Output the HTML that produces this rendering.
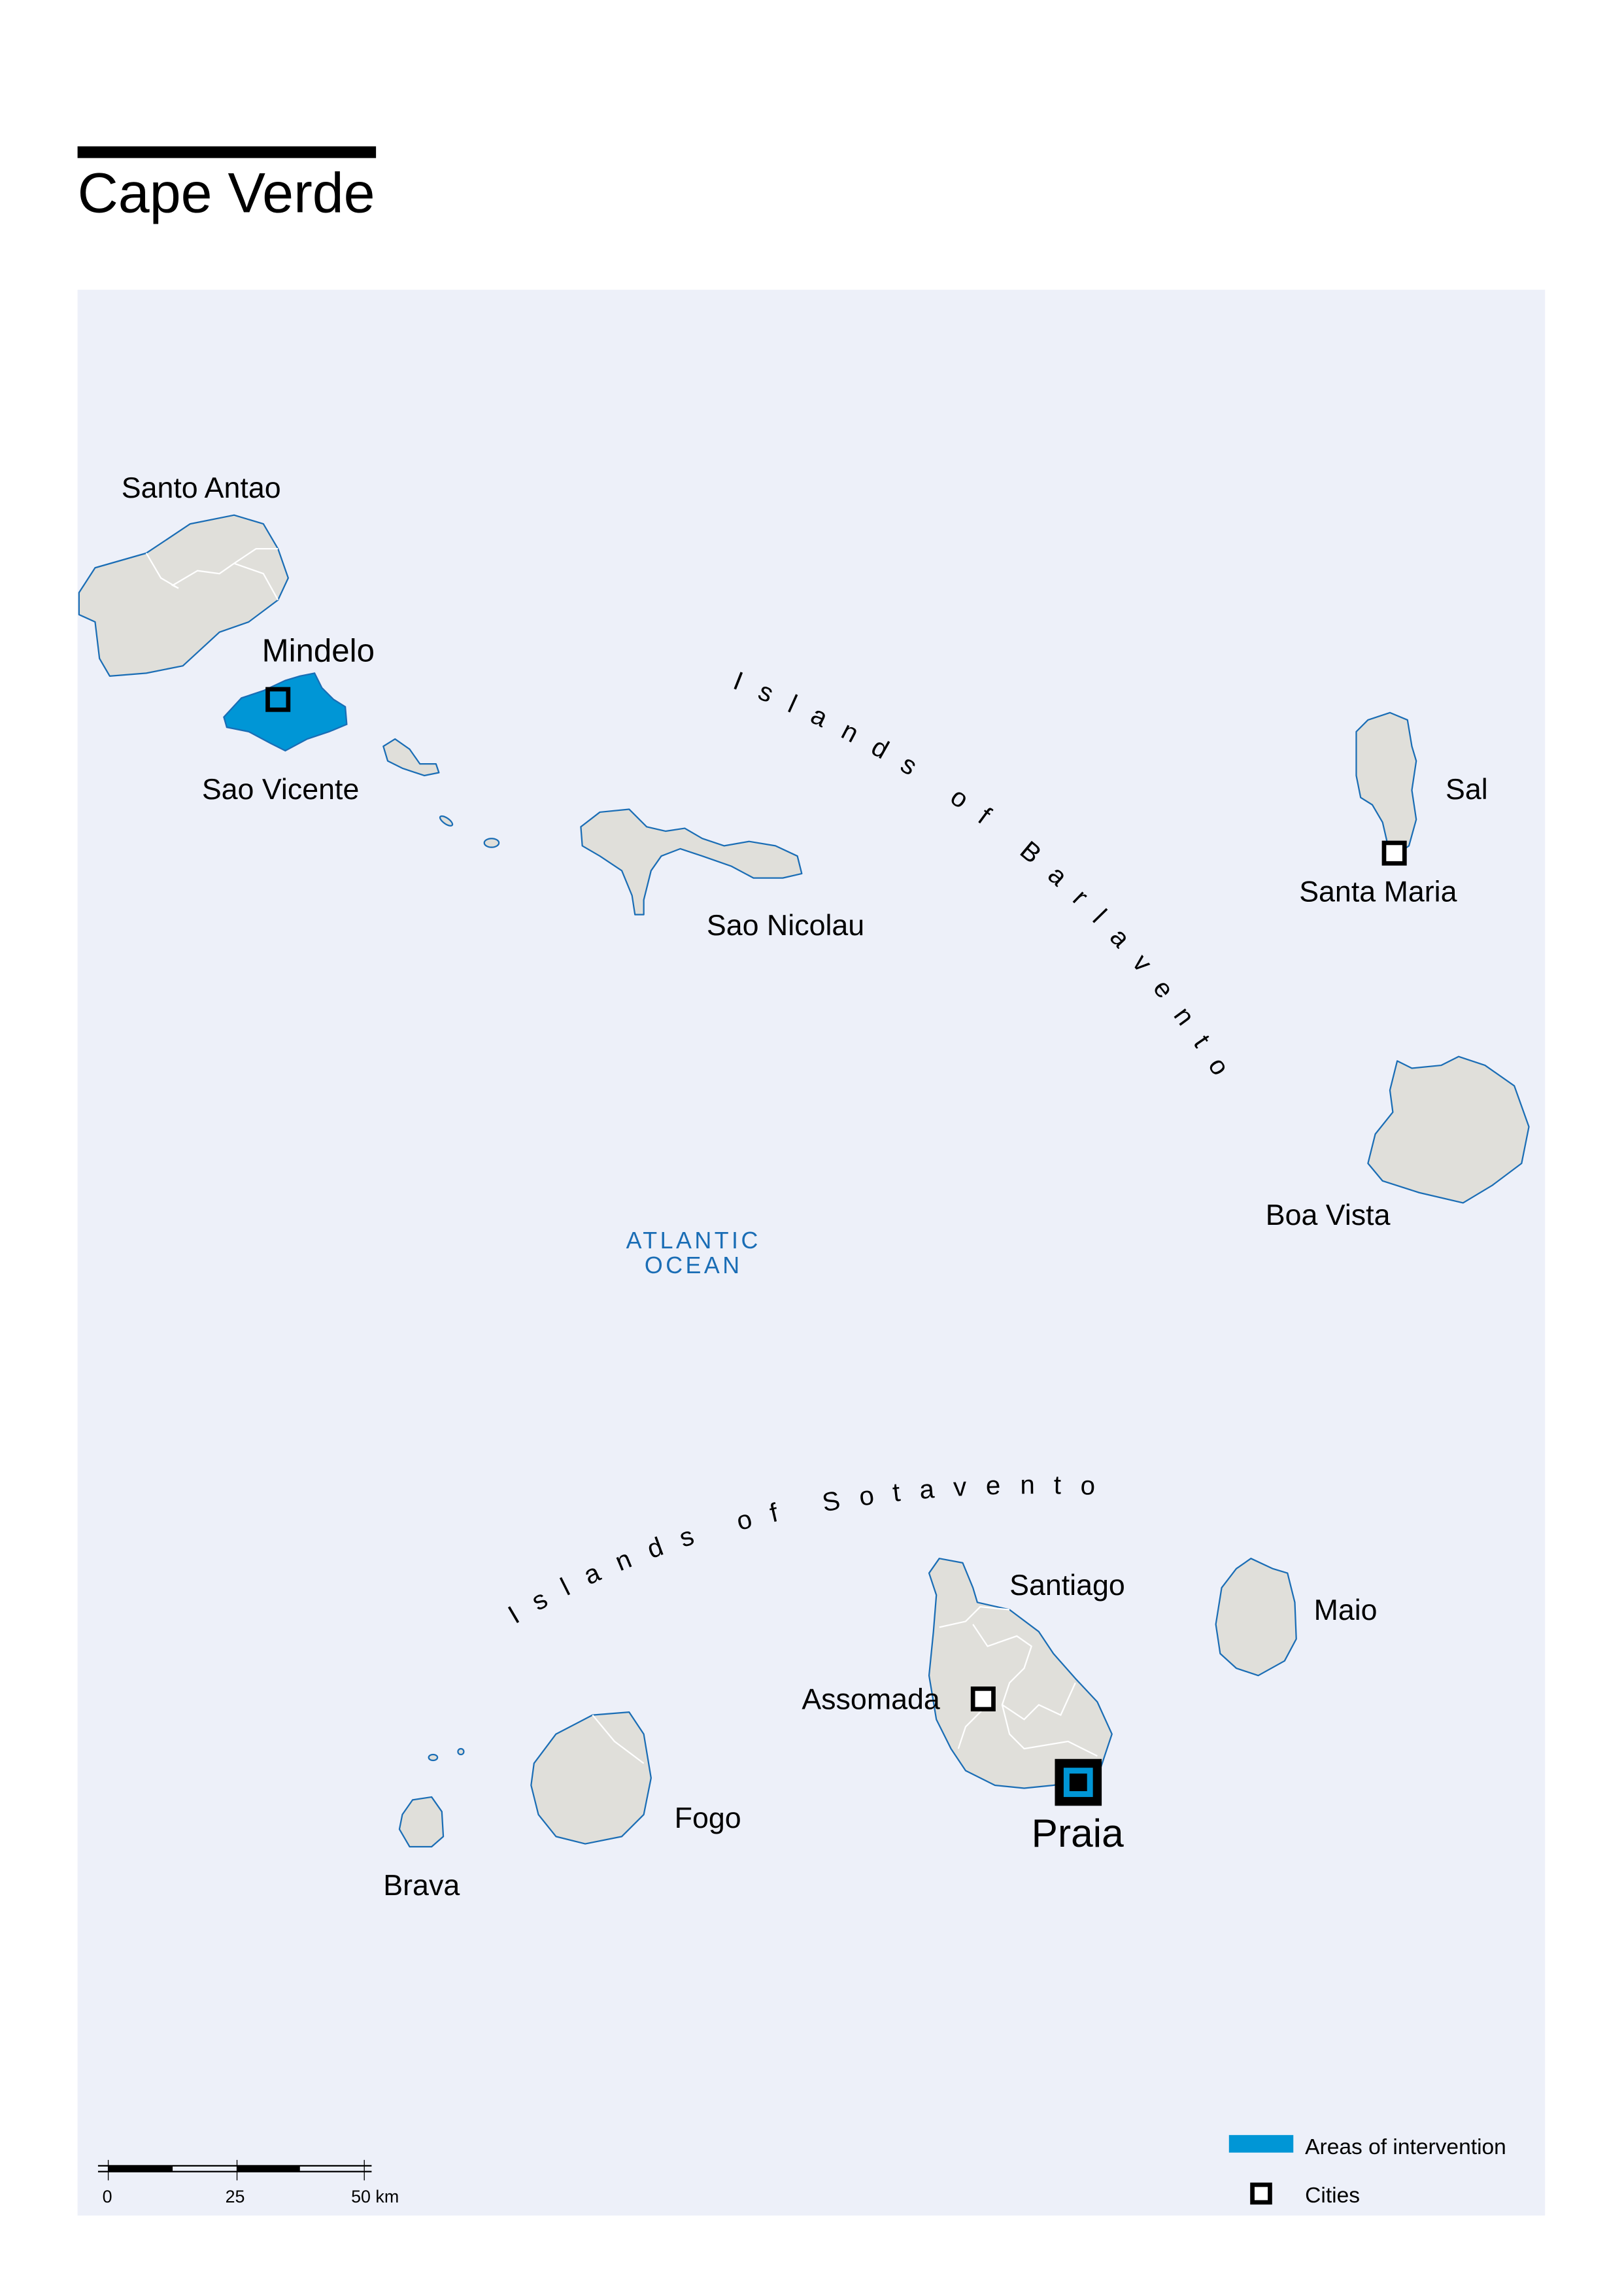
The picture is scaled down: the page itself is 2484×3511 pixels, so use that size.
<!DOCTYPE html>
<html><head><meta charset="utf-8"><style>html,body{margin:0;padding:0;background:#fff}svg{display:block}</style></head>
<body>
<svg width="2484" height="3511" viewBox="0 0 1110 1569" preserveAspectRatio="none" xmlns="http://www.w3.org/2000/svg" font-family="Liberation Sans, sans-serif">
<rect x="53" y="100" width="204" height="8" fill="#000"/>
<text x="53" y="145" font-size="38.5" fill="#000">Cape Verde</text>
<rect x="53" y="198" width="1003" height="1316" fill="#edf0f9"/>
<g fill="#e0dfda" stroke="#1a6db5" stroke-width="1" stroke-linejoin="round">
<polygon points="54,405 65,388 100,378 130,358 160,352 180,358 190,375 197,395 190,410 170,425 150,432 125,455 100,460 75,462 68,450 65,425 54,420"/>
<polygon points="262,510 270,505 280,512 287,522 298,522 300,528 290,530 275,525 265,520"/>
<ellipse cx="305" cy="561" rx="5" ry="2" transform="rotate(35 305 561)"/>
<ellipse cx="336" cy="576" rx="5" ry="3"/>
<polygon points="397,565 410,555 430,553 442,565 455,568 468,566 480,573 495,578 512,575 530,578 545,585 548,597 535,600 515,600 500,592 480,585 465,580 452,585 445,595 440,615 440,625 434,625 432,612 425,595 410,585 398,578"/>
<polygon points="927,500 935,492 950,487 962,492 965,510 968,520 965,540 968,560 963,578 953,585 948,575 945,562 938,550 930,545 927,530"/>
<polygon points="950,745 955,725 965,730 985,728 997,722 1015,728 1035,742 1045,770 1040,795 1020,810 1000,822 970,815 945,807 935,795 940,775 952,760"/>
<polygon points="635,1075 642,1065 658,1068 665,1085 668,1095 690,1100 710,1115 720,1130 735,1147 750,1163 760,1185 755,1200 750,1215 720,1220 700,1222 680,1220 660,1210 650,1195 640,1175 635,1145 638,1115 640,1090"/>
<polygon points="835,1085 845,1072 855,1065 870,1072 880,1075 885,1095 886,1120 878,1135 860,1145 845,1140 834,1130 831,1110"/>
<polygon points="365,1205 380,1185 405,1172 430,1170 440,1185 445,1215 440,1240 425,1255 400,1260 380,1255 368,1240 363,1220"/>
<polygon points="275,1240 282,1230 295,1228 302,1238 303,1255 295,1262 280,1262 273,1250"/>
<ellipse cx="296" cy="1201" rx="3" ry="2"/><ellipse cx="315" cy="1197" rx="2" ry="2"/>
</g>
<g fill="none" stroke="#fff" stroke-width="1">
<path d="M100,378 L110,395 L122,402 L118,400 L135,390 L150,392 L160,385 L175,375 L190,375"/>
<path d="M160,385 L180,392 L190,410"/>
<path d="M405,1172 L420,1190 L440,1205"/>
<path d="M642,1112 L660,1108 L670,1098 L690,1100 M665,1110 L675,1125 L695,1118 L705,1125 L700,1140 L690,1150 L685,1165 L700,1175 L710,1165 L725,1172 L735,1150 M685,1165 L690,1185 L700,1195 L730,1190 L750,1200 M672,1168 L660,1180 L655,1195"/>
</g>
<polygon points="153,490 165,477 180,472 195,465 205,462 215,460 220,470 228,478 236,483 237,495 225,500 210,505 195,513 185,508 170,500 155,497" fill="#0096d6" stroke="#1a6db5" stroke-width="1"/>
<g fill="none" stroke="#000" stroke-width="3">
<rect x="183" y="471" width="14" height="14"/>
<rect x="665" y="1154" width="14" height="14" fill="#fff"/>
<rect x="946" y="576" width="14" height="14" fill="#fff"/>
</g>
<rect x="721" y="1202" width="32" height="32" fill="#000"/>
<rect x="727" y="1208" width="20" height="20" fill="#0096d6"/>
<rect x="731" y="1212" width="12" height="12" fill="#000"/>
<g font-size="20" fill="#000">
<text x="83" y="340">Santo Antao</text>
<text x="179" y="452" font-size="22">Mindelo</text>
<text x="138" y="546">Sao Vicente</text>
<text x="483" y="639">Sao Nicolau</text>
<text x="988" y="546">Sal</text>
<text x="888" y="616">Santa Maria</text>
<text x="865" y="837">Boa Vista</text>
<text x="690" y="1090">Santiago</text>
<text x="898" y="1107">Maio</text>
<text x="548" y="1168">Assomada</text>
<text x="705" y="1262" font-size="27">Praia</text>
<text x="461" y="1249">Fogo</text>
<text x="262" y="1295">Brava</text>
</g>
<text x="474" y="853" font-size="16" fill="#1a6db5" text-anchor="middle" letter-spacing="2">ATLANTIC</text>
<text x="474" y="870" font-size="16" fill="#1a6db5" text-anchor="middle" letter-spacing="2">OCEAN</text>
<defs>
<path id="p1" d="M500,470 Q730,560 845,760"/>
<path id="p2" d="M352,1110 Q520,1010 760,1022"/>
</defs>
<text font-size="18" fill="#000"><textPath href="#p1" textLength="432" lengthAdjust="spacing">Islands of Barlavento</textPath></text>
<text font-size="18" fill="#000"><textPath href="#p2" textLength="412" lengthAdjust="spacing">Islands of Sotavento</textPath></text>
<line x1="67" y1="1480" x2="254" y2="1480" stroke="#000" stroke-width="1"/>
<line x1="67" y1="1484" x2="254" y2="1484" stroke="#000" stroke-width="1"/>
<rect x="74" y="1480" width="44" height="4" fill="#000"/>
<rect x="162" y="1480" width="43" height="4" fill="#000"/>
<g stroke="#000" stroke-width="0.6"><line x1="74" y1="1476" x2="74" y2="1490"/><line x1="162" y1="1476" x2="162" y2="1490"/><line x1="249" y1="1476" x2="249" y2="1490"/></g>
<g font-size="12" fill="#000"><text x="70" y="1505">0</text><text x="154" y="1505">25</text><text x="240" y="1505">50 km</text></g>
<rect x="840" y="1459" width="44" height="12" fill="#0096d6"/>
<rect x="856" y="1493" width="12" height="12" fill="#fff" stroke="#000" stroke-width="3"/>
<g font-size="15" fill="#000"><text x="892" y="1472">Areas of intervention</text><text x="892" y="1505">Cities</text></g>
</svg>
</body></html>
